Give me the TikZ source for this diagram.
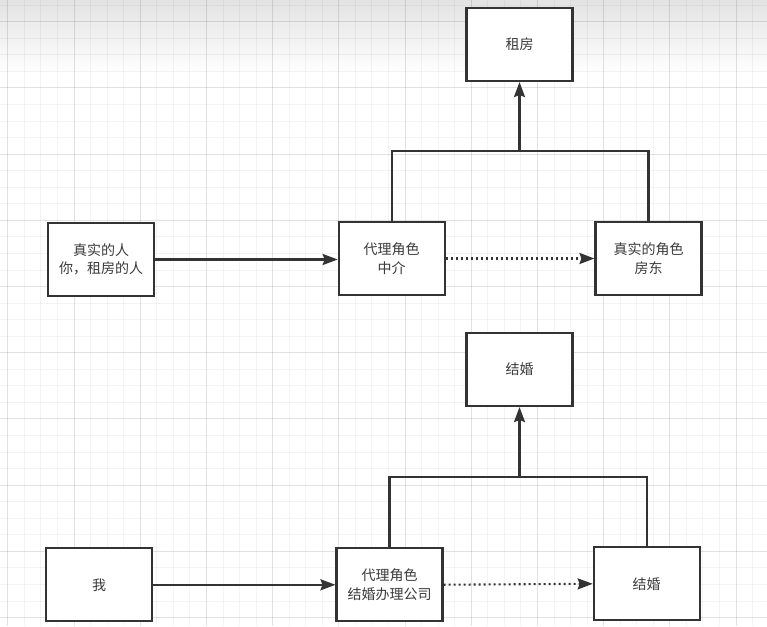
\documentclass[tikz,border=0pt]{standalone}
\usepackage{fontspec}
\newfontfamily\cjk{Noto Sans CJK SC}
\usetikzlibrary{arrows.meta}
\definecolor{ink}{HTML}{333333}
\definecolor{txt}{HTML}{3a3a3a}
\tikzset{
  box/.style={draw=ink, line width=2.1pt, fill=white, minimum width=106pt, minimum height=73pt,
    inner sep=0pt, align=center, text=txt, font=\cjk\fontsize{14}{18.5}\selectfont},
  conn/.style={draw=ink, line width=2.1pt},
  arr/.style={conn, -{Stealth[length=15pt,width=11pt,inset=2pt]}},
  dotarr/.style={arr, dash pattern=on 2pt off 3pt},
  minorline/.style={black, opacity=0.045, line width=0.9pt},
  majorline/.style={black, opacity=0.07, line width=1pt}
}
\begin{document}
\begin{tikzpicture}[x=1pt,y=-1pt]
\useasboundingbox (0,0) rectangle (767,626);
\fill[white] (0,0) rectangle (767,626);
\shade[top color=black!11, bottom color=white] (0,0) rectangle (767,74);
% grid
\foreach \i in {0,...,46} {
  \draw[minorline] ({7.8+16.55*\i},0) -- ({7.8+16.55*\i},626);
}
\foreach \i in {0,...,38} {
  \draw[minorline] (0,{5.15+16.55*\i}) -- (767,{5.15+16.55*\i});
}
\foreach \k in {0,...,11} {
  \draw[majorline] ({7.8+66.2*\k},0) -- ({7.8+66.2*\k},626);
}
\foreach \k in {0,...,9} {
  \draw[majorline] (0,{21.7+66.2*\k}) -- (767,{21.7+66.2*\k});
}
% top group
\node[box] (zf) at (519.5,44.5) {租房};
\node[box] (ren) at (101,259.5) {真实的人\\你，租房的人};
\node[box] (zj) at (391.7,258.5) {代理角色\\中介};
\node[box] (fd) at (648.5,258.5) {真实的角色\\房东};
\coordinate (j1) at (519.5,151);
\draw[conn] (zj.north) |- (j1) -| (fd.north);
\draw[arr] (j1) -- (zf.south);
\draw[arr] (ren.east) -- (zj.west |- ren.east);
\draw[dotarr] (zj.east) -- (fd.west);
% bottom group
\node[box] (jh1) at (519.5,369.5) {结婚};
\node[box] (wo) at (99,584.8) {我};
\node[box] (gs) at (389.5,584.7) {代理角色\\结婚办理公司};
\node[box] (jh2) at (646.7,583.8) {结婚};
\coordinate (j2) at (519.5,477);
\draw[conn] (gs.north) |- (j2) -| (jh2.north);
\draw[arr] (j2) -- (jh1.south);
\draw[arr] (wo.east) -- (gs.west |- wo.east);
\draw[dotarr] (gs.east) -- (jh2.west);
\end{tikzpicture}
\end{document}
